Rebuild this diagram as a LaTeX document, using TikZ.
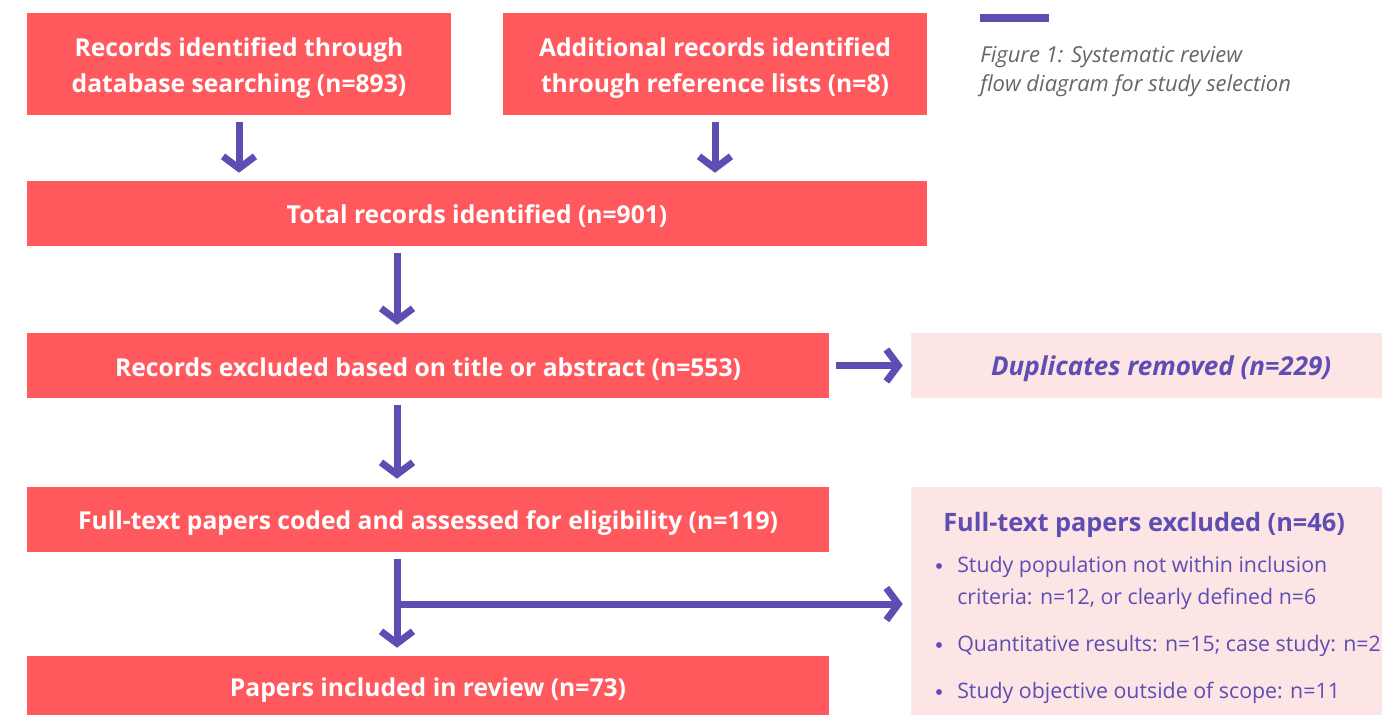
\documentclass[tikz,border=0pt]{standalone}
\usepackage{fontspec}
\setmainfont{Open Sans}
\usetikzlibrary{arrows.meta}
\definecolor{boxred}{HTML}{FF585D}
\definecolor{flowpurple}{HTML}{5E4DB2}
\definecolor{softpink}{HTML}{FDE4E5}
\definecolor{capgray}{HTML}{666666}
\newcommand{\lift}[1]{\rule{0pt}{#1}}
\tikzstyle{every node}=[inner sep=0pt]
\tikzstyle{stage}=[fill=boxred, text=white, font=\fontsize{18.5}{27}\selectfont\bfseries, align=center, minimum height=48.75pt]
\tikzstyle{tall}=[minimum width=318pt, minimum height=76.5pt]
\tikzstyle{side}=[fill=softpink, text=flowpurple]
\tikzstyle{item}=[text=flowpurple, font=\fontsize{16}{24}\selectfont, align=left, anchor=west]
\tikzstyle{flow}=[draw=flowpurple, line width=5.25pt, -{Straight Barb[length=9pt,width=24pt]}, shorten <=5pt, shorten >=6pt]

\begin{document}
\begin{tikzpicture}[x=0.75pt,y=-0.75pt]
\useasboundingbox (0,0) rectangle (1382,715);

% main column
\node[stage, tall] (rec_db)  at (239,64) {\lift{20pt}Records identified through\\database searching (n=893)};
\node[stage, tall] (rec_ref) at (715,64) {\lift{20pt}Additional records identified\\through reference lists (n=8)};
\node[stage, minimum width=675pt]   (total) at (477,213.5) {\lift{18pt}Total records identified (n=901)};
\node[stage, minimum width=601.5pt] (excl)  at (428,365.5) {\lift{19pt}Records excluded based on title or abstract (n=553)};
\node[stage, minimum width=601.5pt] (full)  at (428,519.5) {\lift{19pt}Full-text papers coded and assessed for eligibility (n=119)};
\node[stage, minimum width=601.5pt, minimum height=44.25pt] (incl) at (428,685.5) {\lift{21pt}Papers included in review (n=73)};

% side boxes
\node[side, minimum width=353.25pt, minimum height=48.75pt, font=\fontsize{19.5}{27}\selectfont\bfseries\itshape] (dup) at (1146.5,365.5) {\lift{19pt}\hspace*{22pt}Duplicates removed (n=229)};
\node[side, minimum width=353.25pt, minimum height=171pt] (fullex) at (1146.5,601) {};
\node[text=flowpurple, font=\fontsize{19}{27}\selectfont\bfseries, anchor=west] (fullex_t) at (943,525) {Full-text papers excluded (n=46)};
\node[item] (fullex_1) at (957,583) {Study population not within inclusion\\criteria: n=12, or clearly defined n=6};
\node[item] (fullex_2) at (957,646) {Quantitative results: n=15; case study: n=2};
\node[item] (fullex_3) at (957,693) {Study objective outside of scope: n=11};
\foreach \y in {566,645,692}
  \fill[flowpurple] (939,\y) circle (2.2pt);

% caption
\fill[flowpurple] (980,14) rectangle (1049,22);
\node[text=capgray, font=\fontsize{16.5}{21.75}\selectfont\itshape, align=left, anchor=north west] (caption) at (980,46) {Figure 1: Systematic review\\flow diagram for study selection};

% arrows
\coordinate (spine) at (397,0);
\path (full.south -| spine) -- (incl.north -| spine) coordinate[pos=0.5] (split);
\draw[flow] (rec_db)  -- (rec_db.south |- total.north);
\draw[flow] (rec_ref) -- (rec_ref.south |- total.north);
\draw[flow] (total.south -| spine) -- (excl.north -| spine);
\draw[flow] (excl.south -| spine) -- (full.north -| spine);
\draw[flow] (excl.east) -- (dup.west);
\draw[flow] (full.south -| spine) -- (incl.north -| spine);
\draw[flow, shorten <=0pt] (split) -- (split -| fullex.west);
\end{tikzpicture}
\end{document}
